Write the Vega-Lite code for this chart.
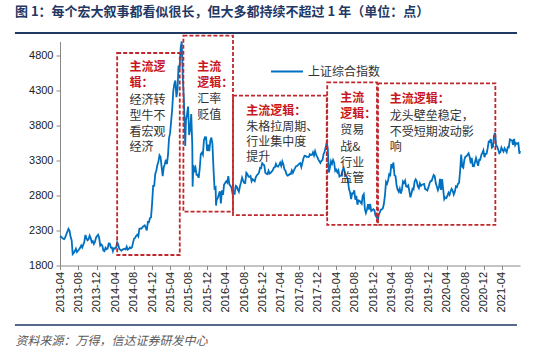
{
  "$schema": "https://vega.github.io/schema/vega-lite/v6.json",
  "width": 460,
  "height": 224,
  "autosize": {"type": "none"},
  "padding": {"left": 60, "top": 41.5, "right": 30, "bottom": 87.5},
  "background": "white",
  "config": {
    "view": {"stroke": null},
    "axis": {"labelOverlap": false}
  },
  "title": {
    "text": "图 1：每个宏大叙事都看似很长，但大多都持续不超过 1 年（单位：点）",
    "anchor": "start", "frame": "group", "dx": -45, "offset": 13,
    "fontSize": 13, "fontWeight": "bold", "font": "Noto Sans CJK SC", "color": "#1f3864"
  },
  "datasets": {
    "idx": [
      {"d":"2013-04-01","v":2200},{"d":"2013-04-08","v":2212},{"d":"2013-04-15","v":2194},{"d":"2013-04-22","v":2184},{"d":"2013-04-29","v":2177},
      {"d":"2013-05-06","v":2205},{"d":"2013-05-13","v":2246},{"d":"2013-05-20","v":2283},{"d":"2013-05-27","v":2324},{"d":"2013-06-03","v":2300},
      {"d":"2013-06-10","v":2210},{"d":"2013-06-17","v":2162},{"d":"2013-06-24","v":1963},{"d":"2013-07-01","v":1979},{"d":"2013-07-08","v":2007},
      {"d":"2013-07-15","v":2039},{"d":"2013-07-22","v":1992},{"d":"2013-07-29","v":2010},{"d":"2013-08-05","v":2029},{"d":"2013-08-12","v":2053},
      {"d":"2013-08-19","v":2085},{"d":"2013-08-26","v":2057},{"d":"2013-09-02","v":2098},{"d":"2013-09-09","v":2140},{"d":"2013-09-16","v":2236},
      {"d":"2013-09-23","v":2191},{"d":"2013-09-30","v":2160},{"d":"2013-10-07","v":2175},{"d":"2013-10-14","v":2228},{"d":"2013-10-21","v":2194},
      {"d":"2013-10-28","v":2133},{"d":"2013-11-04","v":2149},{"d":"2013-11-11","v":2106},{"d":"2013-11-18","v":2136},{"d":"2013-11-25","v":2197},
      {"d":"2013-12-02","v":2220},{"d":"2013-12-09","v":2238},{"d":"2013-12-16","v":2196},{"d":"2013-12-23","v":2084},{"d":"2013-12-30","v":2101},
      {"d":"2014-01-06","v":2083},{"d":"2014-01-13","v":2013},{"d":"2014-01-20","v":2004},{"d":"2014-01-27","v":2054},{"d":"2014-02-03","v":2033},
      {"d":"2014-02-10","v":2044},{"d":"2014-02-17","v":2115},{"d":"2014-02-24","v":2113},{"d":"2014-03-03","v":2056},{"d":"2014-03-10","v":2057},
      {"d":"2014-03-17","v":2004},{"d":"2014-03-24","v":2047},{"d":"2014-03-31","v":2041},{"d":"2014-04-07","v":2058},{"d":"2014-04-14","v":2130},
      {"d":"2014-04-21","v":2098},{"d":"2014-04-28","v":2036},{"d":"2014-05-05","v":2027},{"d":"2014-05-12","v":2011},{"d":"2014-05-19","v":2026},
      {"d":"2014-05-26","v":2034},{"d":"2014-06-02","v":2039},{"d":"2014-06-09","v":2029},{"d":"2014-06-16","v":2070},{"d":"2014-06-23","v":2026},
      {"d":"2014-06-30","v":2036},{"d":"2014-07-07","v":2060},{"d":"2014-07-14","v":2046},{"d":"2014-07-21","v":2059},{"d":"2014-07-28","v":2127},
      {"d":"2014-08-04","v":2185},{"d":"2014-08-11","v":2194},{"d":"2014-08-18","v":2226},{"d":"2014-08-25","v":2241},{"d":"2014-09-01","v":2217},
      {"d":"2014-09-08","v":2326},{"d":"2014-09-15","v":2331},{"d":"2014-09-22","v":2329},{"d":"2014-09-29","v":2347},{"d":"2014-10-06","v":2363},
      {"d":"2014-10-13","v":2374},{"d":"2014-10-20","v":2341},{"d":"2014-10-27","v":2302},{"d":"2014-11-03","v":2420},{"d":"2014-11-10","v":2418},
      {"d":"2014-11-17","v":2478},{"d":"2014-11-24","v":2487},{"d":"2014-12-01","v":2683},{"d":"2014-12-08","v":2938},{"d":"2014-12-15","v":2938},
      {"d":"2014-12-22","v":3108},{"d":"2014-12-29","v":3157},{"d":"2015-01-05","v":3235},{"d":"2015-01-12","v":3285},{"d":"2015-01-19","v":3376},
      {"d":"2015-01-26","v":3351},{"d":"2015-02-02","v":3210},{"d":"2015-02-09","v":3076},{"d":"2015-02-16","v":3203},{"d":"2015-02-23","v":3247},
      {"d":"2015-03-02","v":3310},{"d":"2015-03-09","v":3248},{"d":"2015-03-16","v":3372},{"d":"2015-03-23","v":3617},{"d":"2015-03-30","v":3691},
      {"d":"2015-04-06","v":3863},{"d":"2015-04-13","v":4034},{"d":"2015-04-20","v":4287},{"d":"2015-04-27","v":4394},{"d":"2015-05-04","v":4442},
      {"d":"2015-05-11","v":4206},{"d":"2015-05-18","v":4309},{"d":"2015-05-25","v":4658},{"d":"2015-06-01","v":4611},{"d":"2015-06-08","v":4910},
      {"d":"2015-06-15","v":5000},{"d":"2015-06-22","v":4478},{"d":"2015-06-29","v":4193},{"d":"2015-07-06","v":3687},{"d":"2015-07-08","v":3507},
      {"d":"2015-07-13","v":3878},{"d":"2015-07-20","v":3958},{"d":"2015-07-27","v":4070},{"d":"2015-08-03","v":3664},{"d":"2015-08-10","v":3744},
      {"d":"2015-08-17","v":3965},{"d":"2015-08-24","v":3507},{"d":"2015-08-26","v":2927},{"d":"2015-08-31","v":3232},{"d":"2015-09-07","v":3160},
      {"d":"2015-09-14","v":3200},{"d":"2015-09-21","v":3097},{"d":"2015-09-28","v":3092},{"d":"2015-10-05","v":3053},{"d":"2015-10-12","v":3183},
      {"d":"2015-10-19","v":3392},{"d":"2015-10-26","v":3412},{"d":"2015-11-02","v":3383},{"d":"2015-11-09","v":3590},{"d":"2015-11-16","v":3632},
      {"d":"2015-11-23","v":3630},{"d":"2015-11-30","v":3436},{"d":"2015-12-07","v":3525},{"d":"2015-12-14","v":3435},{"d":"2015-12-21","v":3578},
      {"d":"2015-12-28","v":3628},{"d":"2016-01-04","v":3539},{"d":"2016-01-11","v":3186},{"d":"2016-01-18","v":2901},{"d":"2016-01-25","v":2916},
      {"d":"2016-01-28","v":2656},{"d":"2016-02-01","v":2737},{"d":"2016-02-08","v":2763},{"d":"2016-02-22","v":2860},{"d":"2016-02-29","v":2688},
      {"d":"2016-03-07","v":2874},{"d":"2016-03-14","v":2810},{"d":"2016-03-21","v":2955},{"d":"2016-03-28","v":2979},{"d":"2016-04-04","v":3004},
      {"d":"2016-04-11","v":2985},{"d":"2016-04-18","v":3078},{"d":"2016-04-25","v":2960},{"d":"2016-05-02","v":2938},{"d":"2016-05-09","v":2913},
      {"d":"2016-05-16","v":2827},{"d":"2016-05-23","v":2826},{"d":"2016-05-30","v":2822},{"d":"2016-06-06","v":2938},{"d":"2016-06-13","v":2927},
      {"d":"2016-06-20","v":2885},{"d":"2016-06-27","v":2854},{"d":"2016-07-04","v":2930},{"d":"2016-07-11","v":2989},{"d":"2016-07-18","v":3054},
      {"d":"2016-07-25","v":3012},{"d":"2016-08-01","v":2979},{"d":"2016-08-08","v":2977},{"d":"2016-08-15","v":3125},{"d":"2016-08-22","v":3108},
      {"d":"2016-08-29","v":3070},{"d":"2016-09-05","v":3067},{"d":"2016-09-12","v":3078},{"d":"2016-09-19","v":3003},{"d":"2016-09-26","v":3033},
      {"d":"2016-10-10","v":3004},{"d":"2016-10-17","v":3063},{"d":"2016-10-24","v":3090},{"d":"2016-10-31","v":3104},{"d":"2016-11-07","v":3125},
      {"d":"2016-11-14","v":3196},{"d":"2016-11-21","v":3192},{"d":"2016-11-28","v":3262},{"d":"2016-12-05","v":3244},{"d":"2016-12-12","v":3232},
      {"d":"2016-12-19","v":3123},{"d":"2016-12-26","v":3110},{"d":"2017-01-02","v":3104},{"d":"2017-01-09","v":3154},{"d":"2017-01-16","v":3113},
      {"d":"2017-01-23","v":3123},{"d":"2017-02-06","v":3159},{"d":"2017-02-13","v":3197},{"d":"2017-02-20","v":3202},{"d":"2017-02-27","v":3253},
      {"d":"2017-03-06","v":3218},{"d":"2017-03-13","v":3212},{"d":"2017-03-20","v":3237},{"d":"2017-03-27","v":3269},{"d":"2017-04-03","v":3223},
      {"d":"2017-04-10","v":3287},{"d":"2017-04-17","v":3246},{"d":"2017-04-24","v":3173},{"d":"2017-05-01","v":3155},{"d":"2017-05-08","v":3103},
      {"d":"2017-05-15","v":3085},{"d":"2017-05-22","v":3091},{"d":"2017-05-29","v":3108},{"d":"2017-06-05","v":3106},{"d":"2017-06-12","v":3158},
      {"d":"2017-06-19","v":3123},{"d":"2017-06-26","v":3158},{"d":"2017-07-03","v":3192},{"d":"2017-07-10","v":3218},{"d":"2017-07-17","v":3222},
      {"d":"2017-07-24","v":3237},{"d":"2017-07-31","v":3254},{"d":"2017-08-07","v":3262},{"d":"2017-08-14","v":3208},{"d":"2017-08-21","v":3269},
      {"d":"2017-08-28","v":3332},{"d":"2017-09-04","v":3367},{"d":"2017-09-11","v":3365},{"d":"2017-09-18","v":3353},{"d":"2017-09-25","v":3352},
      {"d":"2017-10-02","v":3349},{"d":"2017-10-09","v":3390},{"d":"2017-10-16","v":3378},{"d":"2017-10-23","v":3380},{"d":"2017-10-30","v":3417},
      {"d":"2017-11-06","v":3371},{"d":"2017-11-13","v":3432},{"d":"2017-11-20","v":3382},{"d":"2017-11-27","v":3353},{"d":"2017-12-04","v":3317},
      {"d":"2017-12-11","v":3289},{"d":"2017-12-18","v":3266},{"d":"2017-12-25","v":3297},{"d":"2018-01-01","v":3307},{"d":"2018-01-08","v":3391},
      {"d":"2018-01-15","v":3429},{"d":"2018-01-22","v":3488},{"d":"2018-01-29","v":3558},{"d":"2018-02-05","v":3462},{"d":"2018-02-12","v":3129},
      {"d":"2018-02-19","v":3199},{"d":"2018-02-26","v":3289},{"d":"2018-03-05","v":3254},{"d":"2018-03-12","v":3307},{"d":"2018-03-19","v":3269},
      {"d":"2018-03-26","v":3152},{"d":"2018-04-02","v":3169},{"d":"2018-04-09","v":3131},{"d":"2018-04-16","v":3160},{"d":"2018-04-23","v":3071},
      {"d":"2018-04-30","v":3082},{"d":"2018-05-07","v":3091},{"d":"2018-05-14","v":3163},{"d":"2018-05-21","v":3193},{"d":"2018-05-28","v":3141},
      {"d":"2018-06-04","v":3075},{"d":"2018-06-11","v":3067},{"d":"2018-06-18","v":3022},{"d":"2018-06-25","v":2889},{"d":"2018-07-02","v":2847},
      {"d":"2018-07-09","v":2747},{"d":"2018-07-16","v":2831},{"d":"2018-07-23","v":2829},{"d":"2018-07-30","v":2874},{"d":"2018-08-06","v":2740},
      {"d":"2018-08-13","v":2795},{"d":"2018-08-20","v":2669},{"d":"2018-08-27","v":2730},{"d":"2018-09-03","v":2725},{"d":"2018-09-10","v":2702},
      {"d":"2018-09-17","v":2682},{"d":"2018-09-24","v":2797},{"d":"2018-10-01","v":2821},{"d":"2018-10-08","v":2606},{"d":"2018-10-15","v":2550},
      {"d":"2018-10-22","v":2599},{"d":"2018-10-29","v":2676},{"d":"2018-11-05","v":2599},{"d":"2018-11-12","v":2680},{"d":"2018-11-19","v":2579},
      {"d":"2018-11-26","v":2588},{"d":"2018-12-03","v":2605},{"d":"2018-12-10","v":2594},{"d":"2018-12-17","v":2516},{"d":"2018-12-24","v":2494},
      {"d":"2019-01-03","v":2464},{"d":"2019-01-07","v":2514},{"d":"2019-01-14","v":2554},{"d":"2019-01-21","v":2596},{"d":"2019-01-28","v":2601},
      {"d":"2019-02-04","v":2618},{"d":"2019-02-11","v":2682},{"d":"2019-02-18","v":2804},{"d":"2019-02-25","v":2994},{"d":"2019-03-04","v":2969},
      {"d":"2019-03-11","v":3021},{"d":"2019-03-18","v":3104},{"d":"2019-03-25","v":3091},{"d":"2019-04-01","v":3247},{"d":"2019-04-08","v":3189},
      {"d":"2019-04-15","v":3271},{"d":"2019-04-22","v":3086},{"d":"2019-04-29","v":3078},{"d":"2019-05-06","v":2939},{"d":"2019-05-13","v":2882},
      {"d":"2019-05-20","v":2853},{"d":"2019-05-27","v":2898},{"d":"2019-06-03","v":2827},{"d":"2019-06-10","v":2882},{"d":"2019-06-17","v":3001},
      {"d":"2019-06-24","v":2979},{"d":"2019-07-01","v":3012},{"d":"2019-07-08","v":2930},{"d":"2019-07-15","v":2924},{"d":"2019-07-22","v":2945},
      {"d":"2019-07-29","v":2868},{"d":"2019-08-05","v":2774},{"d":"2019-08-12","v":2824},{"d":"2019-08-19","v":2897},{"d":"2019-08-26","v":2886},
      {"d":"2019-09-02","v":2999},{"d":"2019-09-09","v":3031},{"d":"2019-09-16","v":3006},{"d":"2019-09-23","v":2932},{"d":"2019-09-30","v":2905},
      {"d":"2019-10-07","v":2973},{"d":"2019-10-14","v":2938},{"d":"2019-10-21","v":2955},{"d":"2019-10-28","v":2958},{"d":"2019-11-04","v":2964},
      {"d":"2019-11-11","v":2891},{"d":"2019-11-18","v":2885},{"d":"2019-11-25","v":2871},{"d":"2019-12-02","v":2912},{"d":"2019-12-09","v":2968},
      {"d":"2019-12-16","v":3005},{"d":"2019-12-23","v":3005},{"d":"2019-12-30","v":3050},{"d":"2020-01-06","v":3092},{"d":"2020-01-13","v":3075},
      {"d":"2020-01-20","v":2977},{"d":"2020-02-03","v":2876},{"d":"2020-02-10","v":2917},{"d":"2020-02-17","v":3039},{"d":"2020-02-24","v":2880},
      {"d":"2020-03-02","v":3034},{"d":"2020-03-09","v":2887},{"d":"2020-03-16","v":2746},{"d":"2020-03-23","v":2772},{"d":"2020-03-30","v":2764},
      {"d":"2020-04-06","v":2797},{"d":"2020-04-13","v":2839},{"d":"2020-04-20","v":2809},{"d":"2020-04-27","v":2860},{"d":"2020-05-04","v":2895},
      {"d":"2020-05-11","v":2868},{"d":"2020-05-18","v":2813},{"d":"2020-05-25","v":2852},{"d":"2020-06-01","v":2931},{"d":"2020-06-08","v":2920},
      {"d":"2020-06-15","v":2967},{"d":"2020-06-22","v":2980},{"d":"2020-06-29","v":3153},{"d":"2020-07-06","v":3384},{"d":"2020-07-13","v":3214},
      {"d":"2020-07-20","v":3197},{"d":"2020-07-27","v":3310},{"d":"2020-08-03","v":3354},{"d":"2020-08-10","v":3360},{"d":"2020-08-17","v":3381},
      {"d":"2020-08-24","v":3404},{"d":"2020-08-31","v":3355},{"d":"2020-09-07","v":3260},{"d":"2020-09-14","v":3338},{"d":"2020-09-21","v":3219},
      {"d":"2020-09-28","v":3218},{"d":"2020-10-12","v":3336},{"d":"2020-10-19","v":3278},{"d":"2020-10-26","v":3225},{"d":"2020-11-02","v":3312},
      {"d":"2020-11-09","v":3310},{"d":"2020-11-16","v":3378},{"d":"2020-11-23","v":3408},{"d":"2020-11-30","v":3445},{"d":"2020-12-07","v":3347},
      {"d":"2020-12-14","v":3395},{"d":"2020-12-21","v":3397},{"d":"2020-12-28","v":3473},{"d":"2021-01-04","v":3570},{"d":"2021-01-11","v":3566},
      {"d":"2021-01-18","v":3607},{"d":"2021-01-25","v":3483},{"d":"2021-02-01","v":3496},{"d":"2021-02-08","v":3655},{"d":"2021-02-15","v":3697},
      {"d":"2021-02-22","v":3509},{"d":"2021-03-01","v":3502},{"d":"2021-03-08","v":3453},{"d":"2021-03-15","v":3405},{"d":"2021-03-22","v":3418},
      {"d":"2021-03-29","v":3484},{"d":"2021-04-05","v":3451},{"d":"2021-04-12","v":3426},{"d":"2021-04-19","v":3474},{"d":"2021-04-26","v":3447},
      {"d":"2021-05-03","v":3419},{"d":"2021-05-10","v":3490},{"d":"2021-05-17","v":3487},{"d":"2021-05-24","v":3601},{"d":"2021-05-31","v":3592},
      {"d":"2021-06-07","v":3590},{"d":"2021-06-14","v":3525},{"d":"2021-06-21","v":3607},{"d":"2021-06-28","v":3519},{"d":"2021-07-05","v":3548},
      {"d":"2021-07-12","v":3540},{"d":"2021-07-19","v":3550},{"d":"2021-07-26","v":3397},{"d":"2021-07-30","v":3440}
    ],
    "boxes": [
      {"s":"2014-04-14","e":"2015-06-02","lo":1950,"hi":4836},
      {"s":"2015-06-26","e":"2016-05-19","lo":2569,"hi":5083},
      {"s":"2016-05-19","e":"2018-01-29","lo":2521,"hi":4226},
      {"s":"2018-02-01","e":"2018-12-27","lo":2379,"hi":4417},
      {"s":"2019-01-03","e":"2021-02-17","lo":2379,"hi":4403}
    ],
    "labels": [
      {"d":"2014-07-04","v":4631,"t":"主流逻","k":"r"},
      {"d":"2014-07-04","v":4403,"t":"辑：","k":"r"},
      {"d":"2014-07-04","v":4164,"t":"经济转","k":"b"},
      {"d":"2014-07-04","v":3936,"t":"型牛不","k":"b"},
      {"d":"2014-07-04","v":3711,"t":"看宏观","k":"b"},
      {"d":"2014-07-04","v":3489,"t":"经济","k":"b"},
      {"d":"2015-09-25","v":4640,"t":"主流","k":"r"},
      {"d":"2015-09-25","v":4411,"t":"逻辑：","k":"r"},
      {"d":"2015-09-25","v":4183,"t":"汇率","k":"b"},
      {"d":"2015-09-25","v":3954,"t":"贬值","k":"b"},
      {"d":"2016-08-15","v":4007,"t":"主流逻辑：","k":"r"},
      {"d":"2016-08-15","v":3783,"t":"朱格拉周期、","k":"b"},
      {"d":"2016-08-15","v":3569,"t":"行业集中度","k":"b"},
      {"d":"2016-08-15","v":3346,"t":"提升","k":"b"},
      {"d":"2018-04-28","v":4186,"t":"主流","k":"r"},
      {"d":"2018-04-28","v":3964,"t":"逻辑：","k":"r"},
      {"d":"2018-04-28","v":3729,"t":"贸易","k":"b"},
      {"d":"2018-04-28","v":3500,"t":"战&","k":"b"},
      {"d":"2018-04-28","v":3271,"t":"行业","k":"b"},
      {"d":"2018-04-28","v":3043,"t":"监管","k":"b"},
      {"d":"2019-03-21","v":4179,"t":"主流逻辑：","k":"r"},
      {"d":"2019-03-21","v":3936,"t":"龙头壁垒稳定，","k":"b"},
      {"d":"2019-03-21","v":3711,"t":"不受短期波动影","k":"b"},
      {"d":"2019-03-21","v":3489,"t":"响","k":"b"}
    ]
  },
  "layer": [
    {
      "data": {"name": "idx"},
      "mark": {"type": "line", "strokeWidth": 1.8, "interpolate": "linear"},
      "encoding": {
        "x": {
          "field": "d", "type": "temporal",
          "scale": {"type": "utc", "domain": [{"year": 2013, "month": 4, "date": 1, "utc": true}, {"year": 2021, "month": 7, "date": 30, "utc": true}]},
          "axis": {
            "values": [
              {"year":2013,"month":4,"date":1,"utc":true},{"year":2013,"month":8,"date":1,"utc":true},{"year":2013,"month":12,"date":1,"utc":true},
              {"year":2014,"month":4,"date":1,"utc":true},{"year":2014,"month":8,"date":1,"utc":true},{"year":2014,"month":12,"date":1,"utc":true},
              {"year":2015,"month":4,"date":1,"utc":true},{"year":2015,"month":8,"date":1,"utc":true},{"year":2015,"month":12,"date":1,"utc":true},
              {"year":2016,"month":4,"date":1,"utc":true},{"year":2016,"month":8,"date":1,"utc":true},{"year":2016,"month":12,"date":1,"utc":true},
              {"year":2017,"month":4,"date":1,"utc":true},{"year":2017,"month":8,"date":1,"utc":true},{"year":2017,"month":12,"date":1,"utc":true},
              {"year":2018,"month":4,"date":1,"utc":true},{"year":2018,"month":8,"date":1,"utc":true},{"year":2018,"month":12,"date":1,"utc":true},
              {"year":2019,"month":4,"date":1,"utc":true},{"year":2019,"month":8,"date":1,"utc":true},{"year":2019,"month":12,"date":1,"utc":true},
              {"year":2020,"month":4,"date":1,"utc":true},{"year":2020,"month":8,"date":1,"utc":true},{"year":2020,"month":12,"date":1,"utc":true},
              {"year":2021,"month":4,"date":1,"utc":true}
            ],
            "tickCount": 40,
            "format": "%Y-%m", "labelAngle": 270, "grid": false, "labelOverlap": false,
            "tickSize": 4, "tickColor": "#888", "domainColor": "#888",
            "labelFont": "Liberation Sans", "labelFontSize": 11, "labelColor": "#222", "labelPadding": 2,
            "title": "资料来源：万得，信达证券研发中心",
            "titleAnchor": "start", "titleAlign": "left", "titleBaseline": "middle",
            "titleX": -45, "titleY": 74.5,
            "titleFont": "Noto Sans CJK SC", "titleFontSize": 12, "titleFontStyle": "italic",
            "titleFontWeight": "normal", "titleColor": "#595959"
          }
        },
        "y": {
          "field": "v", "type": "quantitative",
          "scale": {"domain": [1800, 5000], "nice": false, "zero": false},
          "axis": {
            "values": [1800, 2300, 2800, 3300, 3800, 4300, 4800],
            "tickCount": 20,
            "format": "d", "labelOverlap": false,
            "grid": false, "title": null,
            "tickSize": 4, "tickColor": "#888", "domainColor": "#888",
            "labelFont": "Liberation Sans", "labelFontSize": 11, "labelColor": "#222", "labelPadding": 3
          }
        },
        "color": {
          "datum": "上证综合指数",
          "scale": {"range": ["#0070c0"]},
          "legend": {
            "title": null, "orient": "none", "legendX": 210, "legendY": 13,
            "symbolType": "stroke", "symbolSize": 1024, "symbolStrokeWidth": 2,
            "labelFont": "Noto Sans CJK SC", "labelFontSize": 12, "labelColor": "#333",
            "labelOffset": 4, "padding": 0
          }
        }
      }
    },
    {
      "data": {"values": [{"rule": "top"}]},
      "mark": {"type": "rule", "color": "#1f3864", "strokeWidth": 2},
      "encoding": {
        "x": {"datum": {"year": 2012, "month": 6, "date": 7, "utc": true}, "type": "temporal"},
        "x2": {"datum": {"year": 2021, "month": 7, "date": 10, "utc": true}},
        "y": {"datum": 5120, "type": "quantitative"}
      }
    },
    {
      "data": {"values": [{"rule": "bottom"}]},
      "mark": {"type": "rule", "color": "#1f3864", "strokeWidth": 1.5},
      "encoding": {
        "x": {"datum": {"year": 2012, "month": 6, "date": 7, "utc": true}, "type": "temporal"},
        "x2": {"datum": {"year": 2021, "month": 7, "date": 10, "utc": true}},
        "y": {"datum": 950, "type": "quantitative"}
      }
    },
    {
      "data": {"name": "boxes"},
      "mark": {"type": "rect", "fill": null, "stroke": "#c0282d", "strokeWidth": 1.8, "strokeDash": [4, 2]},
      "encoding": {
        "x": {"field": "s", "type": "temporal"},
        "x2": {"field": "e"},
        "y": {"field": "lo", "type": "quantitative"},
        "y2": {"field": "hi"}
      }
    },
    {
      "data": {"name": "labels"},
      "transform": [{"filter": "datum.k === 'r'"}],
      "mark": {"type": "text", "align": "left", "baseline": "middle", "font": "Noto Sans CJK SC", "fontSize": 12, "fontWeight": "bold", "color": "#c8171e"},
      "encoding": {
        "x": {"field": "d", "type": "temporal"},
        "y": {"field": "v", "type": "quantitative"},
        "text": {"field": "t"}
      }
    },
    {
      "data": {"name": "labels"},
      "transform": [{"filter": "datum.k === 'b'"}],
      "mark": {"type": "text", "align": "left", "baseline": "middle", "font": "Noto Sans CJK SC", "fontSize": 12, "color": "#333333"},
      "encoding": {
        "x": {"field": "d", "type": "temporal"},
        "y": {"field": "v", "type": "quantitative"},
        "text": {"field": "t"}
      }
    }
  ]
}
